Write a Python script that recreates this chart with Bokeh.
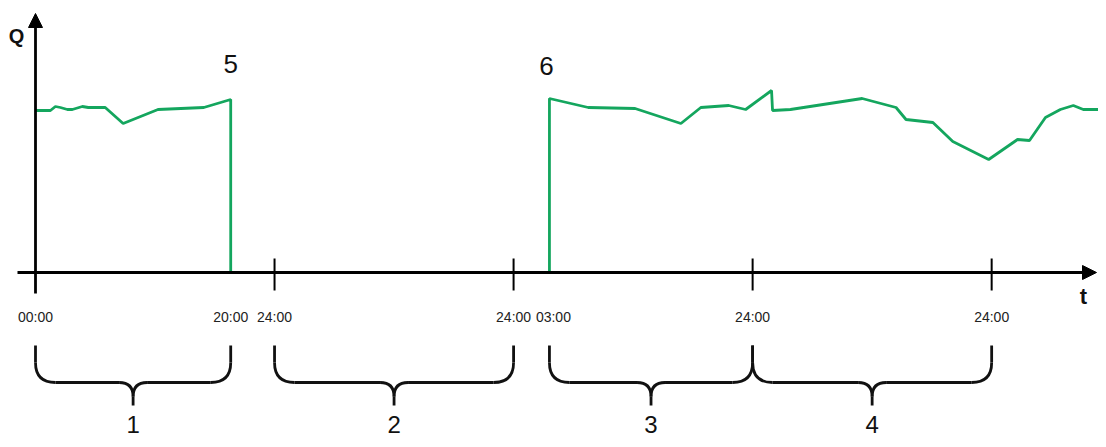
from bokeh.plotting import figure
from bokeh.models import Arrow, NormalHead, Range1d
from bokeh.core.properties import value
from bokeh.embed import file_html
from bokeh.resources import INLINE

# ---- data (time in hours, Q in arbitrary units) ----
seg1_t = [0, 1.5, 2.0, 2.5, 3.2, 3.7, 4.7, 5.3, 7.0, 8.8, 12.3, 16.9, 19.6, 19.6]
seg1_q = [162, 162, 166, 165, 163, 163, 166, 165, 165, 149, 163, 165, 173, 0]

seg2_t = [51.6, 51.6, 55.5, 60.2, 64.8, 66.8, 69.6, 71.3, 73.9, 74.0, 75.8, 83.0,
          86.4, 87.4, 90.1, 92.1, 95.7, 98.6, 99.8, 101.4, 102.9, 104.2, 105.2, 107.6]
seg2_q = [0, 174, 165, 164, 149, 165, 167, 163, 182, 162, 163, 174,
          165, 153, 150, 131, 113, 133, 132, 155, 163, 167, 163, 163]

tick_pos = [24, 48, 72, 96]
label_pos = [0, 19.6, 24, 48, 52.0, 72, 96]
label_txt = ["00:00", "20:00", "24:00", "24:00", "03:00", "24:00", "24:00"]

brace_start = [0, 24, 51.6, 72]
brace_end = [19.6, 48, 72, 96]
brace_txt = ["1", "2", "3", "4"]

marker_pos = [19.6, 51.3]
marker_txt = ["5", "6"]

# ---- figure ----
PXH = 9.96  # pixels per hour
W, H = 1098, 439
x0 = -35 / PXH
p = figure(width=W, height=H, output_backend="svg", toolbar_location=None,
           x_axis_location=None, y_axis_location=None,
           x_range=Range1d(x0, x0 + W / PXH), y_range=Range1d(272 - H, 272),
           min_border=0, min_border_left=0, min_border_right=0,
           min_border_top=0, min_border_bottom=0)
p.grid.visible = False
p.outline_line_color = None
p.background_fill_color = "white"
p.border_fill_color = "white"

GREEN = "#14a65e"
FONT = value("Liberation Sans")

# axes (schematic arrows)
p.add_layout(Arrow(end=NormalHead(size=14, fill_color="black", line_color="black"),
                   x_start=-18 / PXH, y_start=0, x_end=1061 / PXH, y_end=0,
                   line_width=2.8, line_color="black"))
p.add_layout(Arrow(end=NormalHead(size=14, fill_color="black", line_color="black"),
                   x_start=0, y_start=-21, x_end=0, y_end=259,
                   line_width=2.8, line_color="black"))

# ticks
p.segment(x0=tick_pos, y0=[14] * len(tick_pos), x1=tick_pos, y1=[-18] * len(tick_pos),
          line_color="black", line_width=2)

# tick labels
p.text(x=label_pos, y=[-44] * len(label_pos), text=label_txt, text_font=FONT,
       text_font_size="14px", text_align="center", text_baseline="middle",
       text_color="#222222")

# data lines
p.line(seg1_t, seg1_q, line_color=GREEN, line_width=2.8)
p.line(seg2_t, seg2_q, line_color=GREEN, line_width=2.8)

# markers 5, 6
p.text(x=marker_pos, y=[209, 207], text=marker_txt, text_font=FONT,
       text_font_size="26px", text_align="center", text_baseline="middle",
       text_color="#111111")

# axis names
p.text(x=[-19 / PXH], y=[237], text=["Q"], text_font=FONT, text_font_size="20px",
       text_font_style="bold", text_align="center", text_baseline="middle",
       text_color="#111111")
p.text(x=[1048 / PXH], y=[-24], text=["t"], text_font=FONT, text_font_size="22px",
       text_font_style="bold", text_align="center", text_baseline="middle",
       text_color="#111111")

# braces
top, mid, tip, r = -73, -110, -133, 20
rh = r / PXH
sx0, sy0, sx1, sy1 = [], [], [], []
qx0, qy0, qx1, qy1, qcx, qcy = [], [], [], [], [], []
for a, b in zip(brace_start, brace_end):
    m = (a + b) / 2
    # left arm
    sx0 += [a]; sy0 += [top]; sx1 += [a]; sy1 += [mid + r]
    qx0 += [a]; qy0 += [mid + r]; qx1 += [a + rh]; qy1 += [mid]; qcx += [a]; qcy += [mid]
    sx0 += [a + rh]; sy0 += [mid]; sx1 += [m - rh * 0.7]; sy1 += [mid]
    qx0 += [m - rh * 0.7]; qy0 += [mid]; qx1 += [m]; qy1 += [mid - 14]; qcx += [m]; qcy += [mid]
    # right arm
    sx0 += [b]; sy0 += [top]; sx1 += [b]; sy1 += [mid + r]
    qx0 += [b]; qy0 += [mid + r]; qx1 += [b - rh]; qy1 += [mid]; qcx += [b]; qcy += [mid]
    sx0 += [b - rh]; sy0 += [mid]; sx1 += [m + rh * 0.7]; sy1 += [mid]
    qx0 += [m + rh * 0.7]; qy0 += [mid]; qx1 += [m]; qy1 += [mid - 14]; qcx += [m]; qcy += [mid]
    # tip
    sx0 += [m]; sy0 += [mid - 14]; sx1 += [m]; sy1 += [tip]

p.segment(x0=sx0, y0=sy0, x1=sx1, y1=sy1, line_color="#111111", line_width=2.8)
p.quadratic(x0=qx0, y0=qy0, x1=qx1, y1=qy1, cx=qcx, cy=qcy,
            line_color="#111111", line_width=2.8)

brace_mid = [(a + b) / 2 for a, b in zip(brace_start, brace_end)]
p.text(x=brace_mid, y=[-152] * len(brace_mid), text=brace_txt, text_font=FONT,
       text_font_size="24px", text_align="center", text_baseline="middle",
       text_color="#111111")

open("out.html", "w").write(file_html(p, INLINE))
